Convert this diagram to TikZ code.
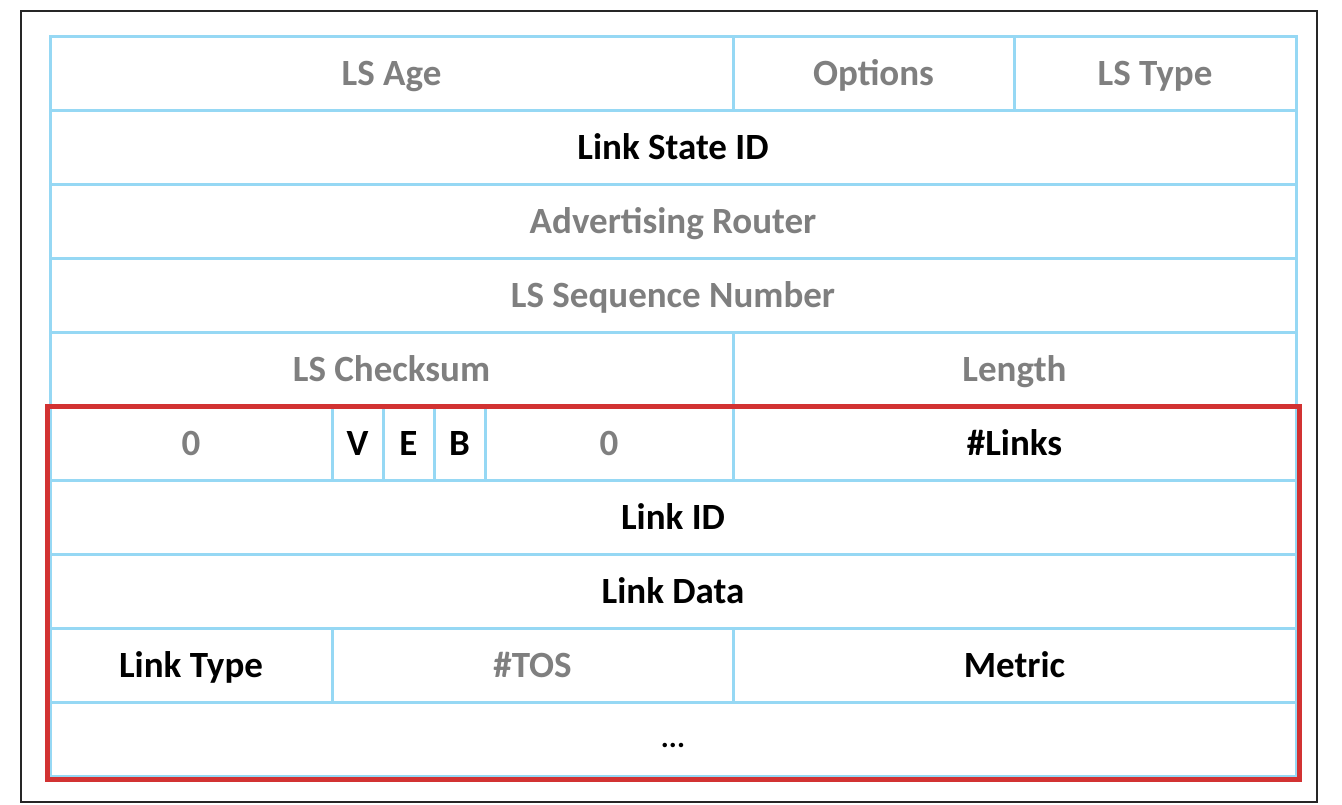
\documentclass[tikz,border=0pt]{standalone}
\usepackage{fontspec}
\setmainfont{Carlito}
\definecolor{gridblue}{HTML}{96D8F4}
\definecolor{txtgray}{HTML}{7F7F7F}
\definecolor{boxred}{HTML}{D23232}
\begin{document}
\begin{tikzpicture}[x=1pt,y=-1pt,
  cell/.style={draw=gridblue,line width=3pt,rectangle,inner sep=0pt,minimum height=74pt,
    font=\fontsize{37}{42}\selectfont\bfseries,anchor=center,
    text height=25pt,text depth=0pt},
  gr/.style={cell,text=txtgray},
  bk/.style={cell,text=black}]
\useasboundingbox (0,0) rectangle (1342,804);
\fill[white] (0,0) rectangle (1342,804);
\draw[black!85,line width=2pt] (21,11) rectangle (1317,802);
% row 1
\node[gr,minimum width=683pt] (age) at (391.5,73) {LS Age};
\node[gr,minimum width=281pt] (opt) at (873.5,73) {Options};
\node[gr,minimum width=282pt] (type) at (1155,73) {LS Type};
% rows 2-4
\node[bk,minimum width=1246pt] (lsid) at (673,147) {Link State ID};
\node[gr,minimum width=1246pt] (adv) at (673,221) {Advertising Router};
\node[gr,minimum width=1246pt] (seq) at (673,295) {LS Sequence Number};
% row 5
\node[gr,minimum width=683pt] (chk) at (391.5,369) {LS Checksum};
\node[gr,minimum width=563pt] (len) at (1014.5,369) {Length};
% row 6
\node[gr,minimum width=282pt] (z1) at (191,443) {0};
\node[bk,minimum width=51pt] (v) at (357.5,443) {V};
\node[bk,minimum width=51pt] (e) at (408.5,443) {E};
\node[bk,minimum width=51pt] (b) at (459.5,443) {B};
\node[gr,minimum width=248pt] (z2) at (609,443) {0};
\node[bk,minimum width=563pt] (links) at (1014.5,443) {\#Links};
% rows 7-8
\node[bk,minimum width=1246pt] (lid) at (673,517) {Link ID};
\node[bk,minimum width=1246pt] (ldata) at (673,591) {Link Data};
% row 9
\node[bk,minimum width=282pt] (ltype) at (191,665) {Link Type};
\node[gr,minimum width=401pt] (tos) at (532.5,665) {\#TOS};
\node[bk,minimum width=563pt] (metric) at (1014.5,665) {Metric};
% row 10
\node[bk,minimum width=1246pt,font=\fontsize{30}{36}\selectfont\bfseries,text height=16pt] (more) at (673,739) {...};
% red highlight
\draw[boxred,line width=5pt] (47,406) rectangle (1299,779);
\end{tikzpicture}
\end{document}
